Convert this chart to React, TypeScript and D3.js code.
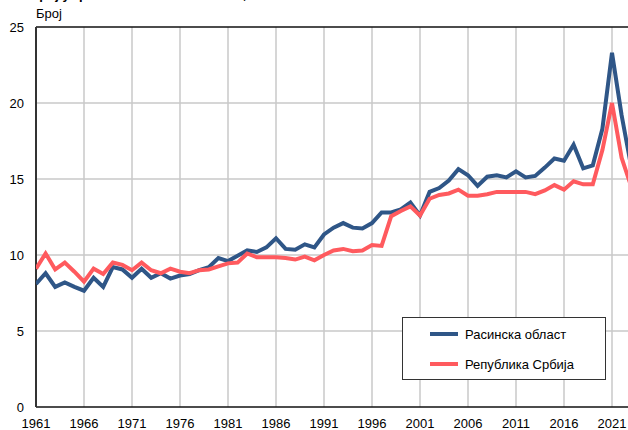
import React from 'react';
import * as d3 from 'd3';

const years = [
  1961, 1962, 1963, 1964, 1965, 1966, 1967, 1968, 1969, 1970,
  1971, 1972, 1973, 1974, 1975, 1976, 1977, 1978, 1979, 1980,
  1981, 1982, 1983, 1984, 1985, 1986, 1987, 1988, 1989, 1990,
  1991, 1992, 1993, 1994, 1995, 1996, 1997, 1998, 1999, 2000,
  2001, 2002, 2003, 2004, 2005, 2006, 2007, 2008, 2009, 2010,
  2011, 2012, 2013, 2014, 2015, 2016, 2017, 2018, 2019, 2020,
  2021, 2022, 2023,
];

const rasina = [
  8.1, 8.8, 7.9, 8.2, 7.9, 7.65, 8.5, 7.9, 9.2, 9.05,
  8.5, 9.1, 8.5, 8.8, 8.45, 8.65, 8.75, 9.0, 9.2, 9.8,
  9.6, 9.95, 10.3, 10.2, 10.5, 11.1, 10.4, 10.35, 10.7, 10.5,
  11.35, 11.8, 12.1, 11.8, 11.75, 12.1, 12.8, 12.8, 13.0, 13.45,
  12.6, 14.15, 14.4, 14.9, 15.65, 15.25, 14.55, 15.15, 15.25, 15.1,
  15.5, 15.1, 15.2, 15.75, 16.35, 16.2, 17.25, 15.7, 15.9, 18.3,
  23.3, 19.2, 15.8,
];

const serbia = [
  9.1, 10.1, 9.05, 9.5, 8.9, 8.25, 9.1, 8.75, 9.5, 9.35,
  9.0, 9.5, 9.0, 8.8, 9.1, 8.9, 8.8, 9.0, 9.05, 9.25,
  9.45, 9.5, 10.1, 9.85, 9.85, 9.85, 9.8, 9.7, 9.9, 9.65,
  10.0, 10.3, 10.4, 10.25, 10.3, 10.65, 10.6, 12.55, 12.9, 13.2,
  12.6, 13.7, 13.95, 14.05, 14.3, 13.9, 13.9, 14.0, 14.15, 14.15,
  14.15, 14.15, 14.0, 14.25, 14.6, 14.3, 14.85, 14.65, 14.65, 16.9,
  20.0, 16.4, 14.5,
];

const yTicks = [0, 5, 10, 15, 20, 25];
const xTicks = [1961, 1966, 1971, 1976, 1981, 1986, 1991, 1996, 2001, 2006, 2011, 2016, 2021];

const seriesNames = ['Расинска област', 'Република Србија'];
const colors = ['#2f5687', '#ff5a5e'];

const W = 628;
const H = 430;
const font = '"Liberation Sans", Arial, sans-serif';

export default function App() {
  const left = 36;
  const top = 27;
  const bottom = 407;
  const x = d3.scaleLinear().domain([1961, 2021]).range([left, 612]);
  const y = d3.scaleLinear().domain([0, 25]).range([bottom, top]);
  const right = x(2024);

  const line = d3.line<number>()
    .x((_, i) => x(years[i]))
    .y(d => y(d));

  const all = [rasina, serbia];

  return (
    <div style={{ position: 'fixed', left: 0, top: 0 }}>
      <svg width={W} height={H} style={{ display: 'block', background: '#fff' }} fontFamily={font}>
        <defs>
          <clipPath id="plot">
            <rect x={left} y={top - 4} width={right - left} height={bottom - top + 4} />
          </clipPath>
        </defs>
        <text x={30} y={-1} fontSize={13} fontWeight="bold" fill="#000">
          Број умрлих на 1.000 становника, 1961–2023
        </text>
        <text x={36} y={18} fontSize={13} fill="#000">Број</text>

        {/* grid */}
        {xTicks.slice(1).map(t => (
          <line key={'gx' + t} x1={x(t)} x2={x(t)} y1={top} y2={bottom} stroke="#c8c8c8" strokeWidth={1.5} />
        ))}
        {yTicks.slice(1, -1).map(t => (
          <line key={'gy' + t} x1={left} x2={right} y1={y(t)} y2={y(t)} stroke="#c8c8c8" strokeWidth={1.5} />
        ))}

        {/* frame */}
        <line x1={left} x2={right} y1={top} y2={top} stroke="#111" strokeWidth={1.5} />
        <line x1={left} x2={right} y1={bottom} y2={bottom} stroke="#111" strokeWidth={1.5} />
        <line x1={left} x2={left} y1={top} y2={bottom} stroke="#333" strokeWidth={2} />

        {/* ticks */}
        {yTicks.map(t => (
          <text key={'ty' + t} x={24} y={y(t) + 5} fontSize={13} textAnchor="end" fill="#000">{t}</text>
        ))}
        {xTicks.map(t => (
          <text key={'tx' + t} x={x(t)} y={428} fontSize={13} textAnchor="middle" fill="#000">{t}</text>
        ))}

        {/* series */}
        <g clipPath="url(#plot)">
          {all.map((s, k) => (
            <path key={k} d={line(s) || ''} fill="none" stroke={colors[k]} strokeWidth={4} strokeLinejoin="miter" />
          ))}
        </g>

        {/* legend */}
        <rect x={402.5} y={317.5} width={203} height={62} fill="#fff" stroke="#333" strokeWidth={1} />
        {seriesNames.map((n, k) => (
          <g key={n}>
            <line x1={430} x2={458} y1={334 + k * 30} y2={334 + k * 30} stroke={colors[k]} strokeWidth={4} />
            <text x={465} y={339 + k * 30} fontSize={13} fill="#000">{n}</text>
          </g>
        ))}
      </svg>
    </div>
  );
}
